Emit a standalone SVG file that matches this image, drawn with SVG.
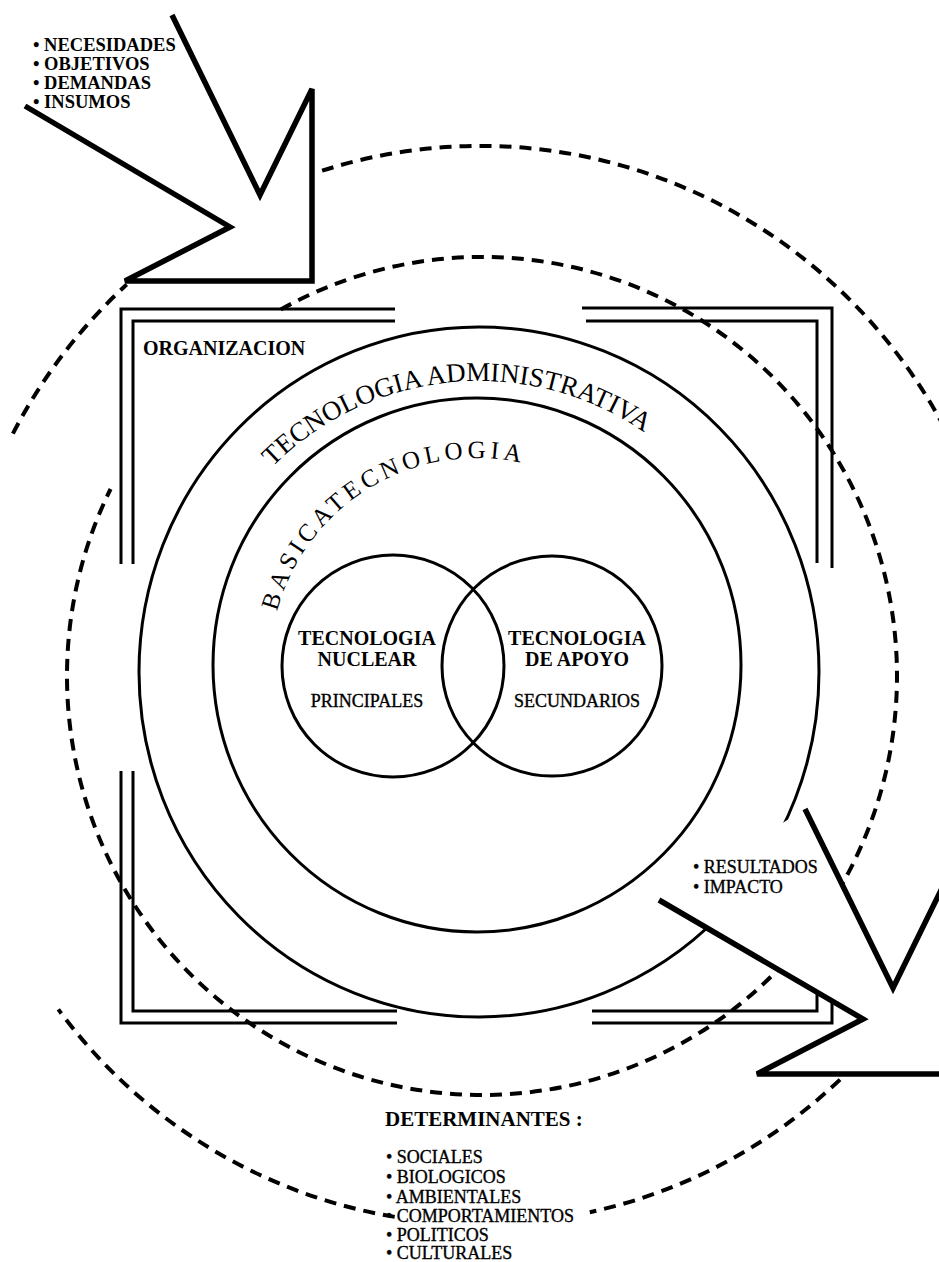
<svg xmlns="http://www.w3.org/2000/svg" width="939" height="1262" viewBox="0 0 939 1262">
  <defs>
    <style>
      .ln { fill: none; stroke: #000; stroke-width: 3; }
      .dash { fill: none; stroke: #000; stroke-width: 4; stroke-dasharray: 12 8; }
      .body { fill: #fff; stroke: none; }
      .arw { fill: none; stroke: #000; stroke-width: 5.5; stroke-linejoin: miter; stroke-miterlimit: 3; }
      .t { font-family: "Liberation Serif", "Times New Roman", serif; fill: #000; }
      .b { font-weight: bold; }
      .ink { stroke: #000; stroke-width: 0.35; }
    </style>
    <!-- baselines for the curved labels -->
    <path id="arcAdmin" d="M 188,672 A 291 291 0 0 1 770,672"/>
    <path id="arcBasica" d="M 270,665 A 207 207 0 0 1 684,665"/>
  </defs>

  <rect width="939" height="1262" fill="#fff"/>

  <!-- environment: two dashed rings -->
  <g id="entorno">
    <path class="dash" d="M 12.9,433.6 A 528 539 0 0 1 126.7,284.5"/>
    <path class="dash" d="M 322.1,170.7 A 528 539 0 1 1 589.8,1212.2"/>
    <path class="dash" d="M 394.7,1216.9 A 528 539 0 0 1 58.3,1009.4"/>
    <path class="dash" d="M 280.8,309.5 A 415 419 0 1 1 110.6,489.0"/>
  </g>

  <!-- organization frame -->
  <g id="organizacion">
    <polyline class="ln" points="121,564 121,309 395,309"/>
    <polyline class="ln" points="133,564 133,321 395,321"/>
    <polyline class="ln" points="582,308 832,308 832,568"/>
    <polyline class="ln" points="586,321 817,321 817,563"/>
    <polyline class="ln" points="121,771 121,1023 397,1023"/>
    <polyline class="ln" points="133,771 133,1011 397,1011"/>
    <polyline class="ln" points="592,1023 832,1023 832,998"/>
    <polyline class="ln" points="592,1011 817,1011 817,990"/>
    <text class="t b" x="143" y="355" font-size="20">ORGANIZACION</text>
  </g>

  <g id="tecnologia-administrativa">
    <ellipse class="ln" cx="479" cy="672" rx="340" ry="345"/>
    <text class="t" font-size="27" text-anchor="middle"><textPath href="#arcAdmin" startOffset="430">TECNOLOGIA ADMINISTRATIVA</textPath></text>
  </g>

  <g id="tecnologia-basica">
    <ellipse class="ln" cx="477" cy="665" rx="264" ry="267"/>
    <text class="t" font-size="25" letter-spacing="4.3"><textPath href="#arcBasica" startOffset="54">BASICATECNOLOGIA</textPath></text>
  </g>

  <g id="tecnologia-nuclear">
    <circle class="ln" cx="393" cy="666" r="111"/>
    <text class="t b" x="367" y="645" font-size="20" text-anchor="middle">TECNOLOGIA</text>
    <text class="t b" x="367" y="666" font-size="20" text-anchor="middle">NUCLEAR</text>
    <text class="t ink" x="367" y="707" font-size="18" text-anchor="middle">PRINCIPALES</text>
  </g>

  <g id="tecnologia-apoyo">
    <circle class="ln" cx="552" cy="666" r="110"/>
    <text class="t b" x="577" y="645" font-size="20" text-anchor="middle">TECNOLOGIA</text>
    <text class="t b" x="577" y="666" font-size="20" text-anchor="middle">DE APOYO</text>
    <text class="t ink" x="577" y="707" font-size="18" text-anchor="middle">SECUNDARIOS</text>
  </g>

  <!-- input and output arrows (white body hides what passes beneath) -->
  <g id="connectors">
    <polygon class="body" points="172,15 260,195 312,89 312,281 125,281 230,227 25,106"/>
    <polyline class="arw" points="172,15 260,195 312,89 312,281 125,281 230,227 25,106"/>
    <polygon class="body" points="805,809 893,988 945,882 945,1074 757,1074 863,1019 659,900"/>
    <polyline class="arw" points="805,809 893,988 945,882 945,1074 757,1074 863,1019 659,900"/>
  </g>

  <g id="insumos">
    <text class="t b" x="33" y="51" font-size="18.5">• NECESIDADES</text>
    <text class="t b" x="33" y="70" font-size="18.5">• OBJETIVOS</text>
    <text class="t b" x="33" y="89" font-size="18.5">• DEMANDAS</text>
    <text class="t b" x="33" y="108" font-size="18.5">• INSUMOS</text>
  </g>

  <g id="resultados">
    <text class="t ink" x="693" y="873" font-size="18">• RESULTADOS</text>
    <text class="t ink" x="693" y="893" font-size="18">• IMPACTO</text>
  </g>

  <g id="determinantes">
    <text class="t b" x="385" y="1126" font-size="21">DETERMINANTES :</text>
    <text class="t ink" x="386" y="1163" font-size="18">• SOCIALES</text>
    <text class="t ink" x="386" y="1183" font-size="18">• BIOLOGICOS</text>
    <text class="t ink" x="386" y="1203" font-size="18">• AMBIENTALES</text>
    <text class="t ink" x="386" y="1222" font-size="18">• COMPORTAMIENTOS</text>
    <text class="t ink" x="386" y="1241" font-size="18">• POLITICOS</text>
    <text class="t ink" x="386" y="1259" font-size="18">• CULTURALES</text>
  </g>
</svg>
